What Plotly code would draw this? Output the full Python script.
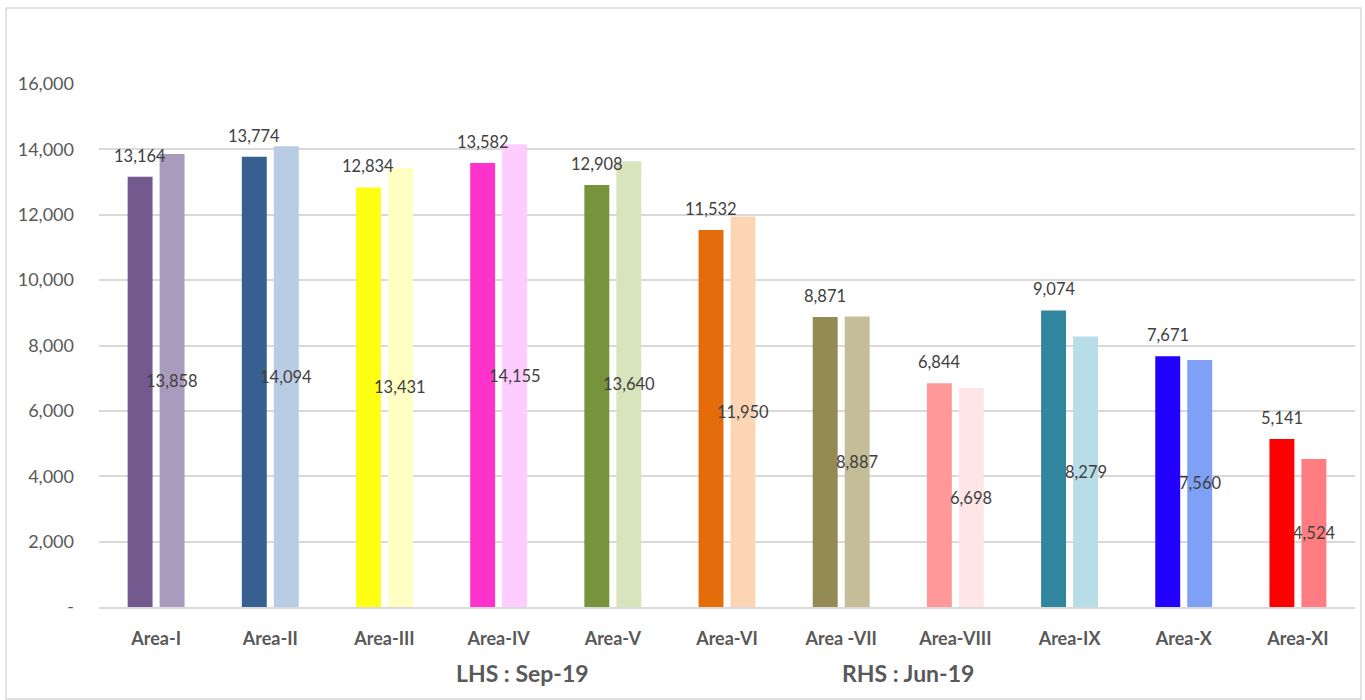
import plotly.graph_objects as go

areas = ["Area-I", "Area-II", "Area-III", "Area-IV", "Area-V", "Area-VI",
         "Area -VII", "Area-VIII", "Area-IX", "Area-X", "Area-XI"]
sep19 = [13164, 13774, 12834, 13582, 12908, 11532, 8871, 6844, 9074, 7671, 5141]
jun19 = [13858, 14094, 13431, 14155, 13640, 11950, 8887, 6698, 8279, 7560, 4524]
sep_colors = ["#725A8E", "#35608F", "#FFFF14", "#FF33CC", "#77933C", "#E46C0A",
              "#948A54", "#FF9999", "#31859C", "#2200FF", "#FF0000"]
jun_colors = ["#A99BBD", "#B8CCE4", "#FFFFC4", "#FFCCFF", "#D8E4BC", "#FCD5B4",
              "#C4BD97", "#FFE5E5", "#B7DEE8", "#7FA1F5", "#FF7C80"]
y_ticks = [0, 2000, 4000, 6000, 8000, 10000, 12000, 14000, 16000]
y_ticktext = ["-", "2,000", "4,000", "6,000", "8,000", "10,000", "12,000", "14,000", "16,000"]

FONT = "Lato, Open Sans, sans-serif"
fig = go.Figure()
fig.add_trace(go.Bar(x=areas, y=sep19, name="Sep-19", marker=dict(color=sep_colors, line_width=0)))
fig.add_trace(go.Bar(x=areas, y=jun19, name="Jun-19", marker=dict(color=jun_colors, line_width=0)))

annotations = []
for a, v in zip(areas, sep19):
    annotations.append(dict(x=a, y=v, xref="x", yref="y", text=f"{v:,}", showarrow=False,
                            xshift=-16, yshift=21, font=dict(family=FONT, size=16.5, color="#404040")))
for a, v in zip(areas, jun19):
    annotations.append(dict(x=a, y=v / 2, xref="x", yref="y", text=f"{v:,}", showarrow=False,
                            xshift=16, yshift=0, font=dict(family=FONT, size=16.5, color="#404040")))
annotations.append(dict(x=0.337, y=(607 - 673) / 523, xref="paper", yref="paper", yanchor="middle",
                        text="<b>LHS : Sep-19</b>",
                        showarrow=False, font=dict(family=FONT, size=23, color="#595959")))
annotations.append(dict(x=0.644, y=(607 - 673) / 523, xref="paper", yref="paper", yanchor="middle",
                        text="<b>RHS : Jun-19</b>",
                        showarrow=False, font=dict(family=FONT, size=23, color="#595959")))

fig.update_layout(
    width=1365, height=700,
    margin=dict(l=99, r=10, t=84, b=93),
    paper_bgcolor="white", plot_bgcolor="white",
    barmode="group", bargap=0.44, bargroupgap=0.22,
    showlegend=False,
    annotations=annotations,
    shapes=[dict(type="rect", xref="paper", yref="paper",
                 x0=(6 - 99) / 1256, x1=(1361 - 99) / 1256,
                 y0=(607 - 699) / 523, y1=(607 - 8) / 523,
                 line=dict(color="#D9D9D9", width=1.5), fillcolor="rgba(0,0,0,0)", layer="below")],
    font=dict(family=FONT),
)
fig.update_yaxes(range=[0, 16000], tickvals=y_ticks, ticktext=y_ticktext,
                 showgrid=True, gridcolor="#D9D9D9", gridwidth=1.5, zeroline=False,
                 showline=False, ticks="", ticklabelstandoff=24,
                 tickfont=dict(family=FONT, size=18, color="#595959"))
fig.update_xaxes(showline=True, linecolor="#D9D9D9", linewidth=1.5, ticks="",
                 ticklabelstandoff=15,
                 tickfont=dict(family=FONT, size=18, color="#595959", weight="bold"))

fig.write_html("out.html")
